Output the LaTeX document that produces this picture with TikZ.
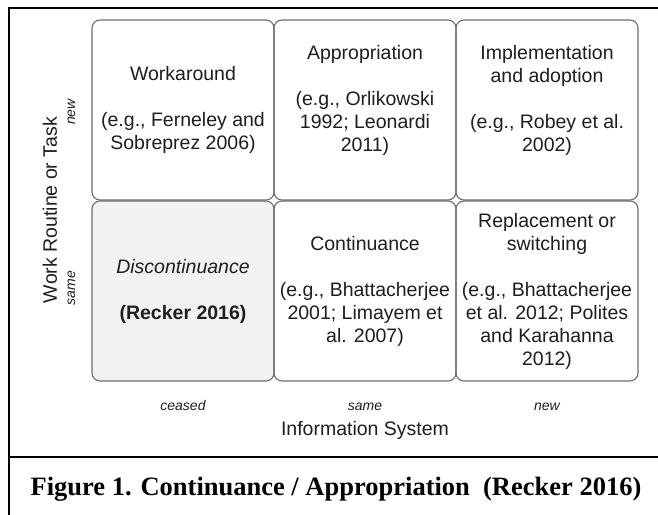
\documentclass[tikz,border=0pt]{standalone}
\usepackage{fontspec}
\setmainfont{Liberation Sans}
\newfontfamily\capfont{Liberation Serif}
\definecolor{cellgray}{HTML}{6E6E6E}
\definecolor{txt}{HTML}{1E1E1E}
\definecolor{discfill}{HTML}{F2F2F2}
\tikzset{
  cell/.style={draw=cellgray, line width=1.1pt, rounded corners=8pt,
    minimum width=182pt, minimum height=180pt, inner sep=0pt,
    align=center, text=txt, font=\fontsize{19.5}{23}\selectfont},
  axislabel/.style={text=txt, inner sep=0pt, font=\fontsize{19.5}{23}\selectfont},
  smalllabel/.style={text=txt, inner sep=0pt, font=\fontsize{14}{16}\selectfont\itshape},
  captext/.style={inner sep=0pt, font=\capfont\bfseries\fontsize{26.5}{30}\selectfont},
  frameline/.style={line width=2pt, black}
}
\begin{document}
\begin{tikzpicture}[x=1pt,y=-1pt]
\useasboundingbox (0,0) rectangle (658,514);
\clip (0,0) rectangle (658,514);
\fill[white] (0,0) rectangle (658,514);
% frame
\coordinate (ftr) at (662,8);
\coordinate (ftl) at (9,8);
\coordinate (fbl) at (9,518);
\coordinate (dl) at (9,457);
\coordinate (dr) at (662,457);
\draw[frameline] (ftr) -- (ftl) -- (fbl);
\draw[frameline] (dl) -- (dr);
% cells
\node[cell] (wa) at (183,110) {Workaround\\ \mbox{}\\ (e.g., Ferneley and\\ Sobreprez 2006)};
\node[cell] (ap) at (365,110) {Appropriation\\ \mbox{}\\ (e.g., Orlikowski\\ 1992; Leonardi\\ 2011)\\ \mbox{}};
\node[cell] (im) at (547,110) {Implementation\\ and adoption\\ \mbox{}\\ (e.g., Robey et al.\\ 2002)\\ \mbox{}};
\node[cell, fill=discfill] (di) at (183,291) {\itshape Discontinuance\\ \mbox{}\\ \bfseries (Recker 2016)};
\node[cell] (co) at (365,291) {Continuance\\ \mbox{}\\ (e.g., Bhattacherjee\\ 2001; Limayem et\\ al. 2007)};
\node[cell] (re) at (547,291) {Replacement or\\ switching\\ \mbox{}\\ (e.g., Bhattacherjee\\ et al. 2012; Polites\\ and Karahanna\\ 2012)};
% axis labels
\node[axislabel, rotate=90] (ylab) at (50,210) {Work Routine or Task};
\node[smalllabel, rotate=90, anchor=base] (ynew) at (75,112) {new};
\node[smalllabel, rotate=90, anchor=base] (ysame) at (75,288) {same};
\node[smalllabel, anchor=base] (xceased) at (183,410) {ceased};
\node[smalllabel, anchor=base] (xsame) at (365,410) {same};
\node[smalllabel, anchor=base] (xnew) at (547,410) {new};
\node[axislabel, anchor=base] (xlab) at (365,435) {Information System};
% caption
\node[captext] (cap) at (336,489) {Figure 1. Continuance / Appropriation\ \ (Recker 2016)};
\end{tikzpicture}
\end{document}
